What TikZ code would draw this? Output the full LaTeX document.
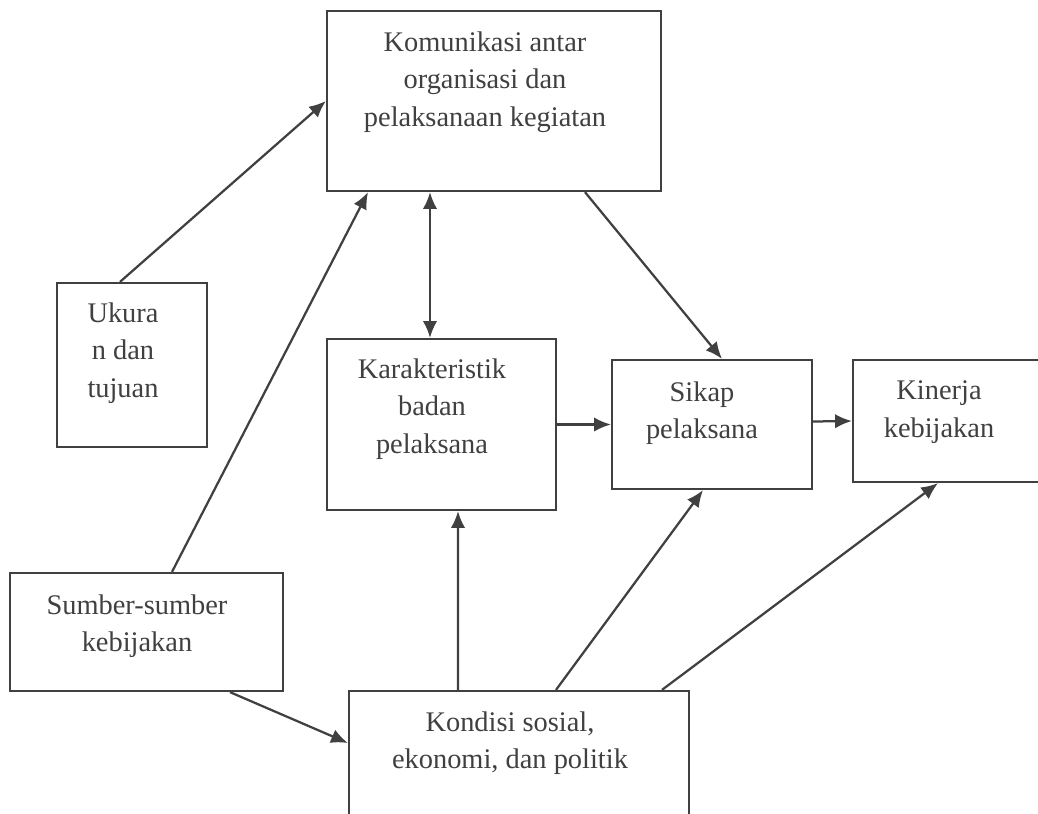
\documentclass[tikz,border=0pt]{standalone}
\usepackage{fontspec}
\setmainfont{Liberation Serif}
\usetikzlibrary{shapes,arrows.meta}
\definecolor{ink}{HTML}{404040}
\newdimen\pxu \pxu=0.025cm
\tikzset{
block/.style = {draw=ink, line width=1.6pt, fill=white, rectangle, inner sep=0pt},
txt/.style = {text=ink, align=center, inner sep=0pt, font=\fontsize{20.2}{26.6}\selectfont},
link/.style = {draw=ink, line width=1.6pt, -{Latex[length=0.42cm,width=0.36cm]}},
duallink/.style = {link, {Latex[length=0.42cm,width=0.36cm]}-{Latex[length=0.42cm,width=0.36cm]}}
}

\begin{document}
\begin{tikzpicture}[x=0.025cm, y=-0.025cm]
    \useasboundingbox (0,0) rectangle (1038,814);
    % boxes first
    \node [block, minimum width=334\pxu, minimum height=180\pxu] (kom) at (494,101) {};
    \node [block, minimum width=150\pxu, minimum height=164\pxu] (ukuran) at (132,365) {};
    \node [block, minimum width=229\pxu, minimum height=171\pxu] (karak) at (441.5,424.5) {};
    \node [block, minimum width=200\pxu, minimum height=129\pxu] (sikap) at (712,424.5) {};
    \node [block, minimum width=197\pxu, minimum height=122\pxu] (kinerja) at (951.5,421) {};
    \node [block, minimum width=273\pxu, minimum height=118\pxu] (sumber) at (146.5,632) {};
    \node [block, minimum width=340\pxu, minimum height=159\pxu] (kondisi) at (519,770.5) {};

    % texts of the boxes
    \node [txt] (komtxt) at (485,82) {Komunikasi antar\\organisasi dan\\pelaksanaan kegiatan};
    \node [txt] (ukurantxt) at (123,353) {Ukura\\n dan\\tujuan};
    \node [txt] (karaktxt) at (432,409) {Karakteristik\\badan\\pelaksana};
    \node [txt] (sikaptxt) at (702,413) {Sikap\\pelaksana};
    \node [txt] (kinerjatxt) at (939,412) {Kinerja\\kebijakan};
    \node [txt] (sumbertxt) at (137,626) {Sumber-sumber\\kebijakan};
    \node [txt] (kondisitxt) at (510,743) {Kondisi sosial,\\ekonomi, dan politik};

    % connectors
    \draw [link] ([xshift=-12\pxu]ukuran.north) -- (kom.west);
    \draw [link] ([xshift=25.5\pxu]sumber.north) -- ([xshift=-126\pxu]kom.south);
    \draw [duallink] ([xshift=-64\pxu]kom.south) -- ([xshift=-11.5\pxu]karak.north);
    \draw [link] ([xshift=91\pxu]kom.south) -- ([xshift=10\pxu]sikap.north);
    \draw [link] (karak.east) -- (sikap.west);
    \draw [link] ([yshift=3\pxu]sikap.east) -- (kinerja.west);
    \draw [link] ([xshift=-61\pxu]kondisi.north) -- ([xshift=16.5\pxu]karak.south);
    \draw [link] ([xshift=37\pxu]kondisi.north) -- ([xshift=-9\pxu]sikap.south);
    \draw [link] ([xshift=143\pxu]kondisi.north) -- ([xshift=-13.5\pxu]kinerja.south);
    \draw [link] ([xshift=83.5\pxu]sumber.south) -- ([yshift=27.5\pxu]kondisi.west);
\end{tikzpicture}
\end{document}
